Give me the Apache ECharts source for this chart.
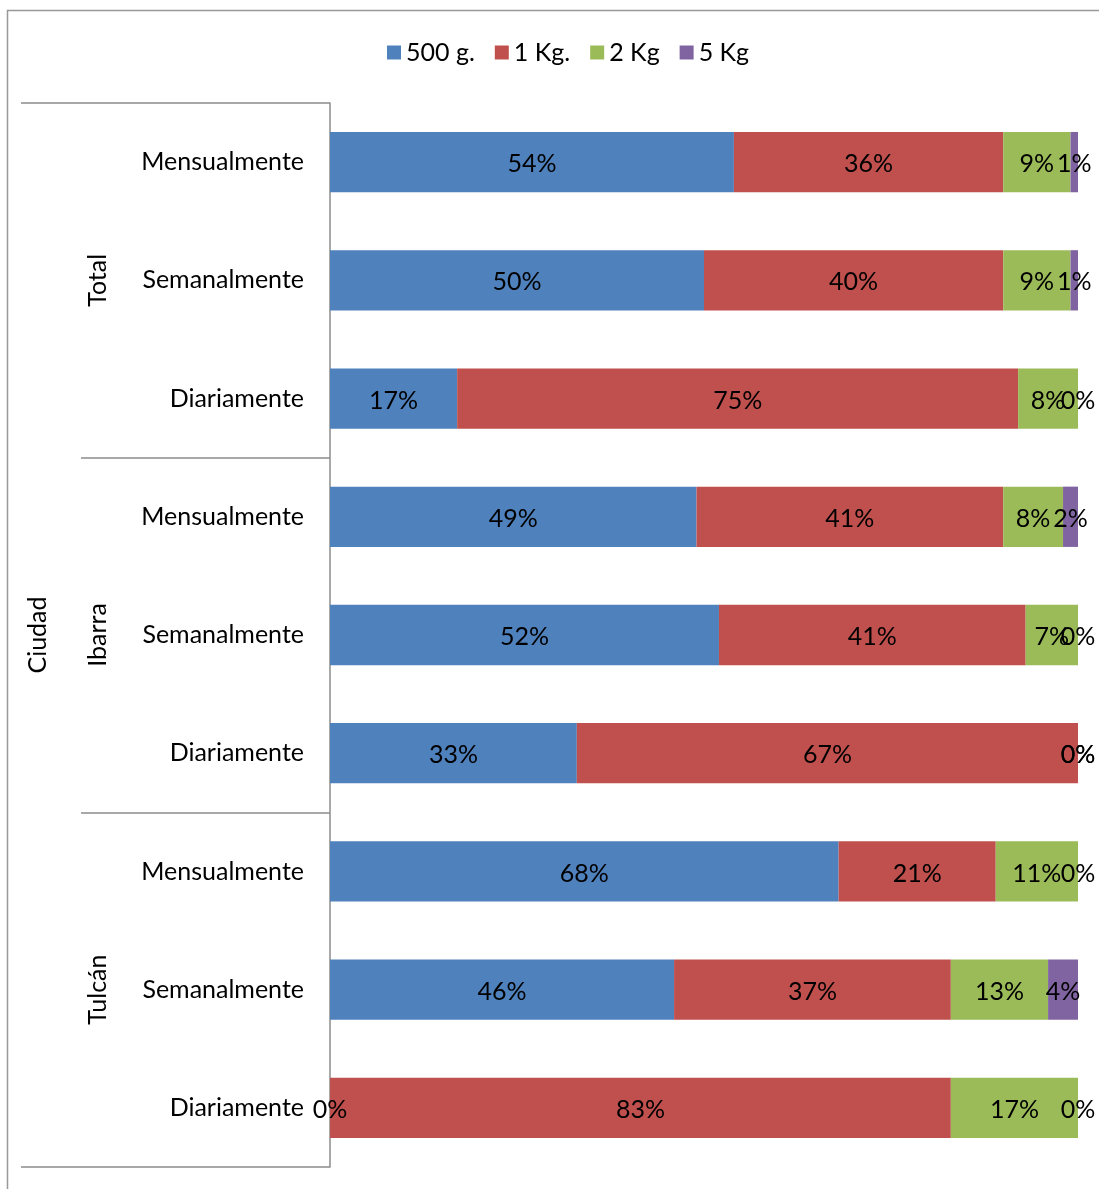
<!DOCTYPE html>
<html>
<head>
<meta charset="utf-8">
<script src="https://cdn.jsdelivr.net/npm/echarts@6/dist/echarts.min.js"></script>
<style>
  html, body { margin: 0; padding: 0; background: #fff; }
  #chart { width: 1099px; height: 1189px; }
</style>
</head>
<body>
<div id="chart"></div>
<script>
// Frequency rows, top to bottom, grouped by city
const frequencies = ['Mensualmente', 'Semanalmente', 'Diariamente',
                     'Mensualmente', 'Semanalmente', 'Diariamente',
                     'Mensualmente', 'Semanalmente', 'Diariamente'];
const cities = ['Total', 'Ibarra', 'Tulcán'];
const outerLevel = ['Ciudad'];

const seriesNames = ['500 g.', '1 Kg.', '2 Kg', '5 Kg'];
const g500 = [54, 50, 17, 49, 52, 33, 68, 46, 0];
const kg1  = [36, 40, 75, 41, 41, 67, 21, 37, 83];
const kg2  = [9, 9, 8, 8, 7, 0, 11, 13, 17];
const kg5  = [1, 1, 0, 2, 0, 0, 0, 4, 0];

const colors = ['#4F81BD', '#C0504D', '#9BBB59', '#8064A2'];
const FONT = 'Lato';
const FS = 25;
const gray = '#8c8c8c';

const chart = echarts.init(document.getElementById('chart'));

const grid = { left: 330, right: 21, top: 103, bottom: 22 };

function barSeries(name, values, i) {
  return {
    name: name,
    type: 'bar',
    stack: 'share',
    barWidth: '51%',
    itemStyle: { color: colors[i] },
    label: {
      show: true,
      position: 'inside',
      formatter: '{c}%',
      color: '#000',
      fontFamily: FONT,
      fontSize: FS,
      offset: [0, 2]
    },
    emphasis: { disabled: true },
    data: values
  };
}

chart.setOption({
  animation: false,
  textStyle: { fontFamily: FONT },
  graphic: [{
    type: 'rect',
    shape: { x: 7.5, y: 10.5, width: 1120, height: 1220 },
    style: { fill: 'none', stroke: '#999', lineWidth: 1.5 },
    silent: true
  }],
  legend: {
    left: 382,
    top: 35,
    itemWidth: 14,
    itemHeight: 14,
    itemGap: 20,
    icon: 'rect',
    textStyle: { fontFamily: FONT, fontSize: FS, color: '#000' },
    data: seriesNames
  },
  grid: grid,
  xAxis: { type: 'value', min: 0, max: 100, show: false },
  yAxis: [
    {
      type: 'category',
      inverse: true,
      data: frequencies,
      axisLine: { show: true, lineStyle: { color: gray, width: 1.5 } },
      axisTick: { show: false },
      axisLabel: { fontFamily: FONT, fontSize: FS, color: '#000', margin: 26, padding: [4, 0, 0, 0] }
    },
    {
      type: 'category',
      inverse: true,
      data: cities,
      position: 'left',
      axisLine: { show: false },
      axisTick: { show: true, length: 249, lineStyle: { color: gray, width: 1.5 } },
      axisLabel: { rotate: 90, fontFamily: FONT, fontSize: FS, color: '#000', margin: 220 }
    },
    {
      type: 'category',
      data: outerLevel,
      position: 'left',
      axisLine: { show: false },
      axisTick: { show: true, length: 309, lineStyle: { color: gray, width: 1.5 } },
      axisLabel: { rotate: 90, fontFamily: FONT, fontSize: FS, color: '#000', margin: 280 }
    }
  ],
  series: [
    barSeries(seriesNames[0], g500, 0),
    barSeries(seriesNames[1], kg1, 1),
    barSeries(seriesNames[2], kg2, 2),
    barSeries(seriesNames[3], kg5, 3)
  ]
});
</script>
</body>
</html>
